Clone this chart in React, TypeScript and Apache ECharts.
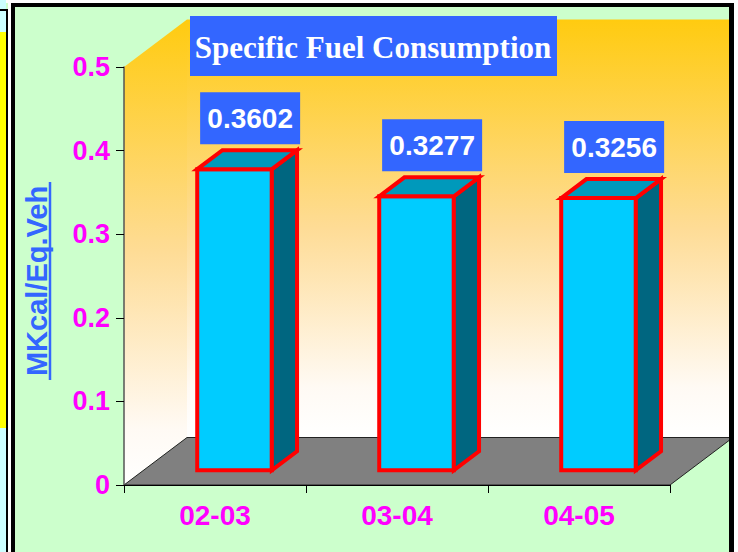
import React, { useEffect, useRef } from "react";
import * as echarts from "echarts";

const categories = ["02-03", "03-04", "04-05"];
const values = [0.3602, 0.3277, 0.3256];
const yTicks = [0, 0.1, 0.2, 0.3, 0.4, 0.5];
const titleText = "Specific Fuel Consumption";
const yTitle = "MKcal/Eq.Veh";

const DX = 63;
const DY = -47.5;
const FRONT = 0.31;
const BACK = 0.4;
const BAR_W = 0.41;

export default function App() {
  const ref = useRef<HTMLDivElement>(null);
  useEffect(() => {
    document.body.style.margin = "0";
    const chart = echarts.init(ref.current!, null, { renderer: "svg" });
    const wallGrad = new echarts.graphic.LinearGradient(0, 0, 0, 1, [
      { offset: 0, color: "#ffcb10" },
      { offset: 0.5, color: "#fedc96" },
      { offset: 0.88, color: "#fffaf4" },
      { offset: 1, color: "#ffffff" },
    ]);
    const option: any = {
      animation: false,
      backgroundColor: "#ccffcc",
      grid: { left: 124, right: 68, top: 67, bottom: 67, containLabel: false },
      xAxis: {
        type: "category",
        data: categories,
        z: 3,
        axisLine: { lineStyle: { color: "#000", width: 1 } },
        axisTick: { show: true, length: 8, lineStyle: { color: "#000" } },
        axisLabel: {
          color: "#ff00ff",
          fontFamily: "Liberation Sans",
          fontWeight: "bold",
          fontSize: 28,
          margin: 16,
        },
        splitLine: { show: false },
      },
      yAxis: {
        type: "value",
        min: yTicks[0],
        max: yTicks[yTicks.length - 1],
        interval: 0.1,
        z: 3,
        axisLine: { show: true, lineStyle: { color: "#555", width: 1.5 } },
        axisTick: { show: true, length: 8, lineStyle: { color: "#000" } },
        axisLabel: {
          color: "#ff00ff",
          fontFamily: "Liberation Sans",
          fontWeight: "bold",
          fontSize: 27,
          margin: 14,
          formatter: (v: number) => (v === 0 ? "0" : v.toFixed(1)),
        },
        splitLine: { show: false },
      },
      series: [
        {
          type: "custom",
          z: 1,
          data: [[0, 0]],
          silent: true,
          renderItem: (params: any) => {
            const cs = params.coordSys;
            const x0 = cs.x;
            const y0 = cs.y;
            const x1 = cs.x + cs.width;
            const yb = cs.y + cs.height;
            return {
              type: "group",
              children: [
                {
                  type: "polygon",
                  shape: {
                    points: [
                      [x0, y0],
                      [x0 + DX, y0 + DY],
                      [x0 + DX, yb + DY],
                      [x0, yb],
                    ],
                  },
                  style: { fill: wallGrad },
                },
                {
                  type: "rect",
                  shape: { x: x0 + DX, y: y0 + DY, width: cs.width + 10, height: cs.height },
                  style: { fill: wallGrad },
                },
                {
                  type: "polygon",
                  shape: {
                    points: [
                      [x0, yb],
                      [x1, yb],
                      [x1 + DX, yb + DY],
                      [x0 + DX, yb + DY],
                    ],
                  },
                  style: { fill: "#808080", stroke: "#222", lineWidth: 1 },
                },
              ],
            };
          },
        },
        {
          type: "custom",
          z: 4,
          data: values.map((v, i) => [i, v]),
          encode: { x: 0, y: 1 },
          renderItem: (params: any, api: any) => {
            const i = api.value(0);
            const v = api.value(1);
            const top = api.coord([i, v]);
            const base = api.coord([i, 0]);
            const cw = api.size([1, 0])[0];
            const bw = cw * BAR_W;
            const x0 = top[0] + FRONT * DX - bw / 2;
            const x1 = x0 + bw;
            const yt = top[1] + FRONT * DY;
            const yb = base[1] + FRONT * DY;
            const bdx = BACK * DX;
            const bdy = BACK * DY;
            const stroke = { stroke: "#ff0000", lineWidth: 4, lineJoin: "miter" };
            const lx = (x0 + x1) / 2 + bdx / 2 + 3;
            const lyb = yt + bdy - 6;
            return {
              type: "group",
              children: [
                {
                  type: "rect",
                  shape: { x: x0, y: yt, width: bw, height: yb - yt },
                  style: { fill: "#00ccff", ...stroke },
                },
                {
                  type: "polygon",
                  shape: {
                    points: [
                      [x1, yt],
                      [x1 + bdx, yt + bdy],
                      [x1 + bdx, yb + bdy],
                      [x1, yb],
                    ],
                  },
                  style: { fill: "#006680", ...stroke },
                },
                {
                  type: "polygon",
                  shape: {
                    points: [
                      [x0, yt],
                      [x0 + bdx, yt + bdy],
                      [x1 + bdx, yt + bdy],
                      [x1, yt],
                    ],
                  },
                  style: { fill: "#0099bb", ...stroke },
                },
                {
                  type: "rect",
                  shape: { x: lx - 50, y: lyb - 52, width: 100, height: 52 },
                  style: { fill: "#3366ff" },
                },
                {
                  type: "text",
                  x: lx,
                  y: lyb - 26,
                  style: {
                    text: String(v),
                    fill: "#ffffff",
                    fontFamily: "Liberation Sans",
                    fontWeight: "bold",
                    fontSize: 28,
                    align: "center",
                    verticalAlign: "middle",
                  },
                },
              ],
            };
          },
        },
      ],
      graphic: [
        { type: "rect", z: 100, shape: { x: 0, y: 0, width: 738, height: 3 }, style: { fill: "#ffffff" } },
        { type: "rect", z: 100, shape: { x: 0, y: 0, width: 6, height: 552 }, style: { fill: "#ccffff" } },
        { type: "rect", z: 100, shape: { x: 0, y: 32, width: 6, height: 396 }, style: { fill: "#ffff00" } },
        { type: "rect", z: 100, shape: { x: 0, y: 9, width: 7, height: 2 }, style: { fill: "#000" } },
        { type: "rect", z: 100, shape: { x: 6, y: 9, width: 2, height: 543 }, style: { fill: "#000" } },
        { type: "rect", z: 100, shape: { x: 8, y: 0, width: 3, height: 552 }, style: { fill: "#ffffff" } },
        { type: "rect", z: 100, shape: { x: 11, y: 3, width: 4, height: 549 }, style: { fill: "#000" } },
        { type: "rect", z: 100, shape: { x: 11, y: 3, width: 723, height: 4 }, style: { fill: "#000" } },
        { type: "rect", z: 100, shape: { x: 729, y: 3, width: 5, height: 549 }, style: { fill: "#000" } },
        { type: "rect", z: 100, shape: { x: 734, y: 0, width: 4, height: 552 }, style: { fill: "#ffffff" } },
        { type: "rect", z: 100, shape: { x: 190, y: 16, width: 367, height: 60 }, style: { fill: "#3366ff" } },
        {
          type: "text",
          z: 101,
          x: 373,
          y: 47,
          style: {
            text: titleText,
            fill: "#ffffff",
            fontFamily: "Liberation Serif",
            fontWeight: "bold",
            fontSize: 31,
            align: "center",
            verticalAlign: "middle",
          },
        },
        {
          type: "text",
          z: 100,
          x: 37,
          y: 281,
          rotation: Math.PI / 2,
          style: {
            text: yTitle,
            fill: "#3366ff",
            fontFamily: "Liberation Sans",
            fontWeight: "bold",
            fontSize: 29,
            align: "center",
            verticalAlign: "middle",
          },
        },
        {
          type: "line",
          z: 100,
          shape: { x1: 50, y1: 182, x2: 50, y2: 380 },
          style: { stroke: "#3366ff", lineWidth: 2.5 },
        },
      ],
    };
    chart.setOption(option);
    return () => chart.dispose();
  }, []);
  return <div ref={ref} style={{ width: 738, height: 552 }} />;
}
